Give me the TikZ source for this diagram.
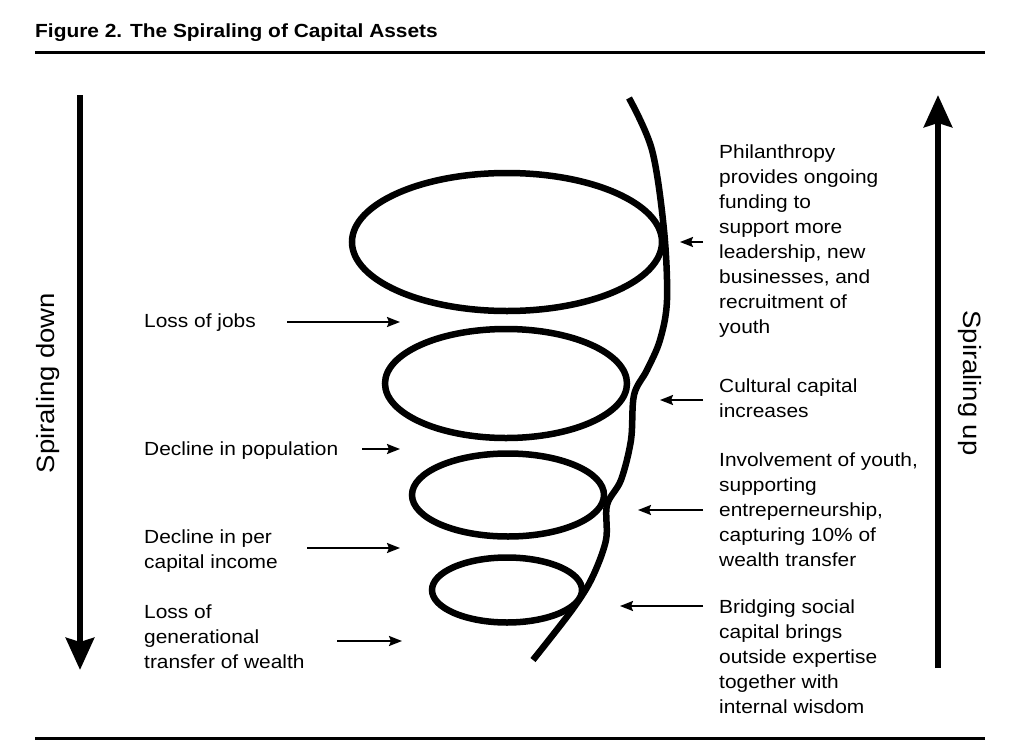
\documentclass[tikz,border=0pt]{standalone}
\usepackage{fontspec}
\setmainfont[FakeStretch=1.1]{Liberation Sans}
\usetikzlibrary{arrows.meta}
\begin{document}
\begin{tikzpicture}[x=1pt,y=-1pt,
  lbl/.style={anchor=base west, inner sep=0pt, align=left, font=\fontsize{19}{25}\selectfont},
  side/.style={inner sep=0pt, font=\fontsize{25}{30}\selectfont},
  coil/.style={line width=6.5pt},
  bigarrow/.style={line width=6.5pt, -{Stealth[length=32pt,width=28pt,inset=4pt]}},
  thinarrow/.style={line width=2pt, -{Stealth[length=13pt,width=10pt,inset=2pt]}},
  rulestyle/.style={line width=3pt}]
\useasboundingbox (0,0) rectangle (1023,755);
% title and rules
\node[anchor=base west, inner sep=0pt, font=\bfseries\fontsize{19}{23}\selectfont] (title) at (35,37) {Figure 2. The Spiraling of Capital Assets};
\coordinate (ta) at (35,52); \coordinate (tb) at (985,52);
\coordinate (ba) at (35,738); \coordinate (bb) at (985,738);
\draw[rulestyle] (ta) -- (tb);
\draw[rulestyle] (ba) -- (bb);
% side arrows
\coordinate (da) at (80,95); \coordinate (db) at (80,670);
\coordinate (ua) at (938,668); \coordinate (ub) at (938,95);
\draw[bigarrow] (da) -- (db);
\draw[bigarrow] (ua) -- (ub);
\node[side, rotate=90] (down) at (48,383) {Spiraling down};
\node[side, rotate=-90] (up) at (970,383) {Spiraling up};
% spiral
\draw[coil] (507,242) ellipse [x radius=155, y radius=69];
\draw[coil] (506,383.5) ellipse [x radius=121, y radius=54.5];
\draw[coil] (508,495) ellipse [x radius=96, y radius=41.5];
\draw[coil] (507,590) ellipse [x radius=75, y radius=32.5];
\draw[coil] plot[smooth, tension=0.55] coordinates {(629,98) (652,150) (664,230) (667,300) (660,340) (647,370) (634,395) (631,440) (621,480) (607,505) (606,540) (592,578) (572,610) (533,660)};
% left labels (anchored at the baseline of the last line)
\node[lbl] (jobs) at (144,327) {Loss of jobs};
\node[lbl] (pop) at (144,455) {Decline in population};
\node[lbl] (inc) at (144,568) {Decline in per\\capital income};
\node[lbl] (gen) at (144,668) {Loss of\\generational\\transfer of wealth};
\coordinate (jobsA) at (287,322); \coordinate (jobsB) at (400,322);
\coordinate (popA) at (362,449); \coordinate (popB) at (400,449);
\coordinate (incA) at (307,548); \coordinate (incB) at (400,548);
\coordinate (genA) at (337,641); \coordinate (genB) at (402,641);
\draw[thinarrow] (jobsA) -- (jobsB);
\draw[thinarrow] (popA) -- (popB);
\draw[thinarrow] (incA) -- (incB);
\draw[thinarrow] (genA) -- (genB);
% right labels (anchored at the baseline of the last line)
\node[lbl] (phil) at (719,333) {Philanthropy\\provides ongoing\\funding to\\support more\\leadership, new\\businesses, and\\recruitment of\\youth};
\node[lbl] (cult) at (719,417) {Cultural capital\\increases};
\node[lbl] (inv) at (719,566) {Involvement of youth,\\supporting\\entreperneurship,\\capturing 10\% of\\wealth transfer};
\node[lbl] (brid) at (719,713) {Bridging social\\capital brings\\outside expertise\\together with\\internal wisdom};
\coordinate (philA) at (703,242); \coordinate (philB) at (680,242);
\coordinate (cultA) at (703,400); \coordinate (cultB) at (660,400);
\coordinate (invA) at (703,510); \coordinate (invB) at (638,510);
\coordinate (bridA) at (703,606); \coordinate (bridB) at (620,606);
\draw[thinarrow] (philA) -- (philB);
\draw[thinarrow] (cultA) -- (cultB);
\draw[thinarrow] (invA) -- (invB);
\draw[thinarrow] (bridA) -- (bridB);
\end{tikzpicture}
\end{document}
